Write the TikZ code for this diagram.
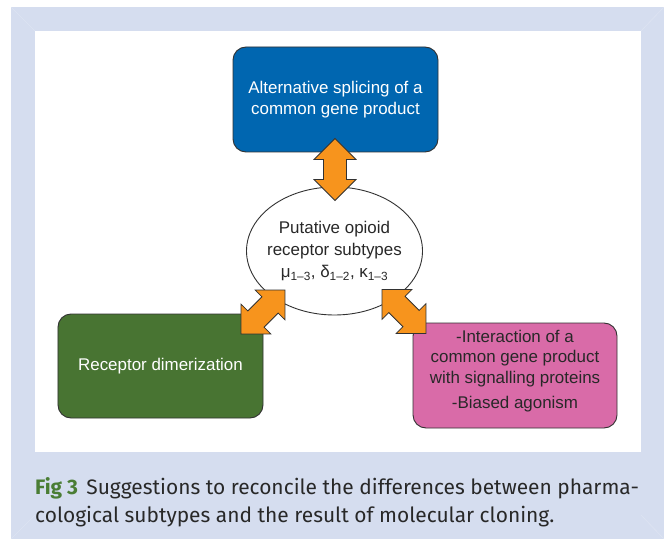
\documentclass[tikz,border=0pt]{standalone}
\usepackage{fontspec}
\setmainfont{Liberation Sans}
\newfontfamily\capfont{Fira Sans}
\usetikzlibrary{calc,shapes.geometric}
\definecolor{bgblue}{RGB}{213,221,239}
\definecolor{boxblue}{RGB}{0,102,176}
\definecolor{boxgreen}{RGB}{72,116,50}
\definecolor{boxpink}{RGB}{217,107,168}
\definecolor{arrorange}{RGB}{247,148,29}
\definecolor{edgegrey}{RGB}{50,50,50}
\definecolor{capgreen}{RGB}{74,125,52}
\definecolor{captext}{RGB}{40,40,40}
\tikzset{
  box/.style={draw=edgegrey, line width=0.9bp, rounded corners=13bp, align=center,
    minimum width=205bp, minimum height=105bp, inner sep=0pt,
    font=\fontsize{17}{20.5}\selectfont},
  dblarrow/.pic={
    \draw[draw=edgegrey, line width=0.8bp, fill=arrorange, line join=miter]
      (-31,0) -- (-10,21) -- (-10,11.5) -- (10,11.5) -- (10,21) -- (31,0)
      -- (10,-21) -- (10,-11.5) -- (-10,-11.5) -- (-10,-21) -- cycle;
  }
}
\begin{document}
\begin{tikzpicture}[x=1bp, y=-1bp]
\useasboundingbox (0,0) rectangle (664,539);
% frame
\fill[bgblue] (11,7) rectangle (664,539);
\draw[white, opacity=0.2, line width=0.6bp] (11,7) -- (35,31) (664,7) -- (641,31)
  (11,539) -- (35,515) (664,539) -- (641,515);
\fill[white] (35,31) rectangle (641,452);
% nodes
\node[box, fill=boxblue, text=white] (splice) at (335.5,99.5)
  {Alternative splicing of a\\common gene product};
\node[box, fill=boxgreen, text=white, minimum height=104bp] (dimer) at (160.5,366)
  {Receptor dimerization};
\node[box, fill=boxpink, text=captext, minimum width=204bp] (signal) at (515,375.5)
  {};
\node[align=center, text=captext, inner sep=0pt, font=\fontsize{17}{20.5}\selectfont]
  (signaltext) at ($(signal.center)+(0,-4.5)$)
  {-Interaction of a\\common gene product\\with signalling proteins\\[5bp]-Biased agonism};
\node[draw=edgegrey, line width=0.9bp, fill=white, ellipse, minimum width=176bp,
  minimum height=128bp, inner sep=0pt] (opioid) at (334.5,251) {};
\node[align=center, text=captext, inner sep=0pt, font=\fontsize{17}{22.5}\selectfont]
  (opioidtext) at (opioid.center)
  {Putative opioid\\receptor subtypes\\μ\textsubscript{1–3}, δ\textsubscript{1–2}, κ\textsubscript{1–3}};
% double arrows
\coordinate (a1) at ($(splice.south)!0.5!(opioid.north)$);
\coordinate (a2) at (263,312);
\coordinate (a3) at (404,311.5);
\pic[rotate=90] at (a1) {dblarrow};
\pic[rotate=45] at (a2) {dblarrow};
\pic[rotate=-45] at (a3) {dblarrow};
% caption
\node[anchor=base west, inner sep=0pt, align=left, text=captext,
  font=\capfont\fontsize{21}{28}\selectfont] (cap) at (35,522)
  {\textcolor{capgreen}{\bfseries Fig 3}\hspace{0.4em}Suggestions to reconcile the differences between pharma-\\cological subtypes and the result of molecular cloning.};
\end{tikzpicture}
\end{document}
